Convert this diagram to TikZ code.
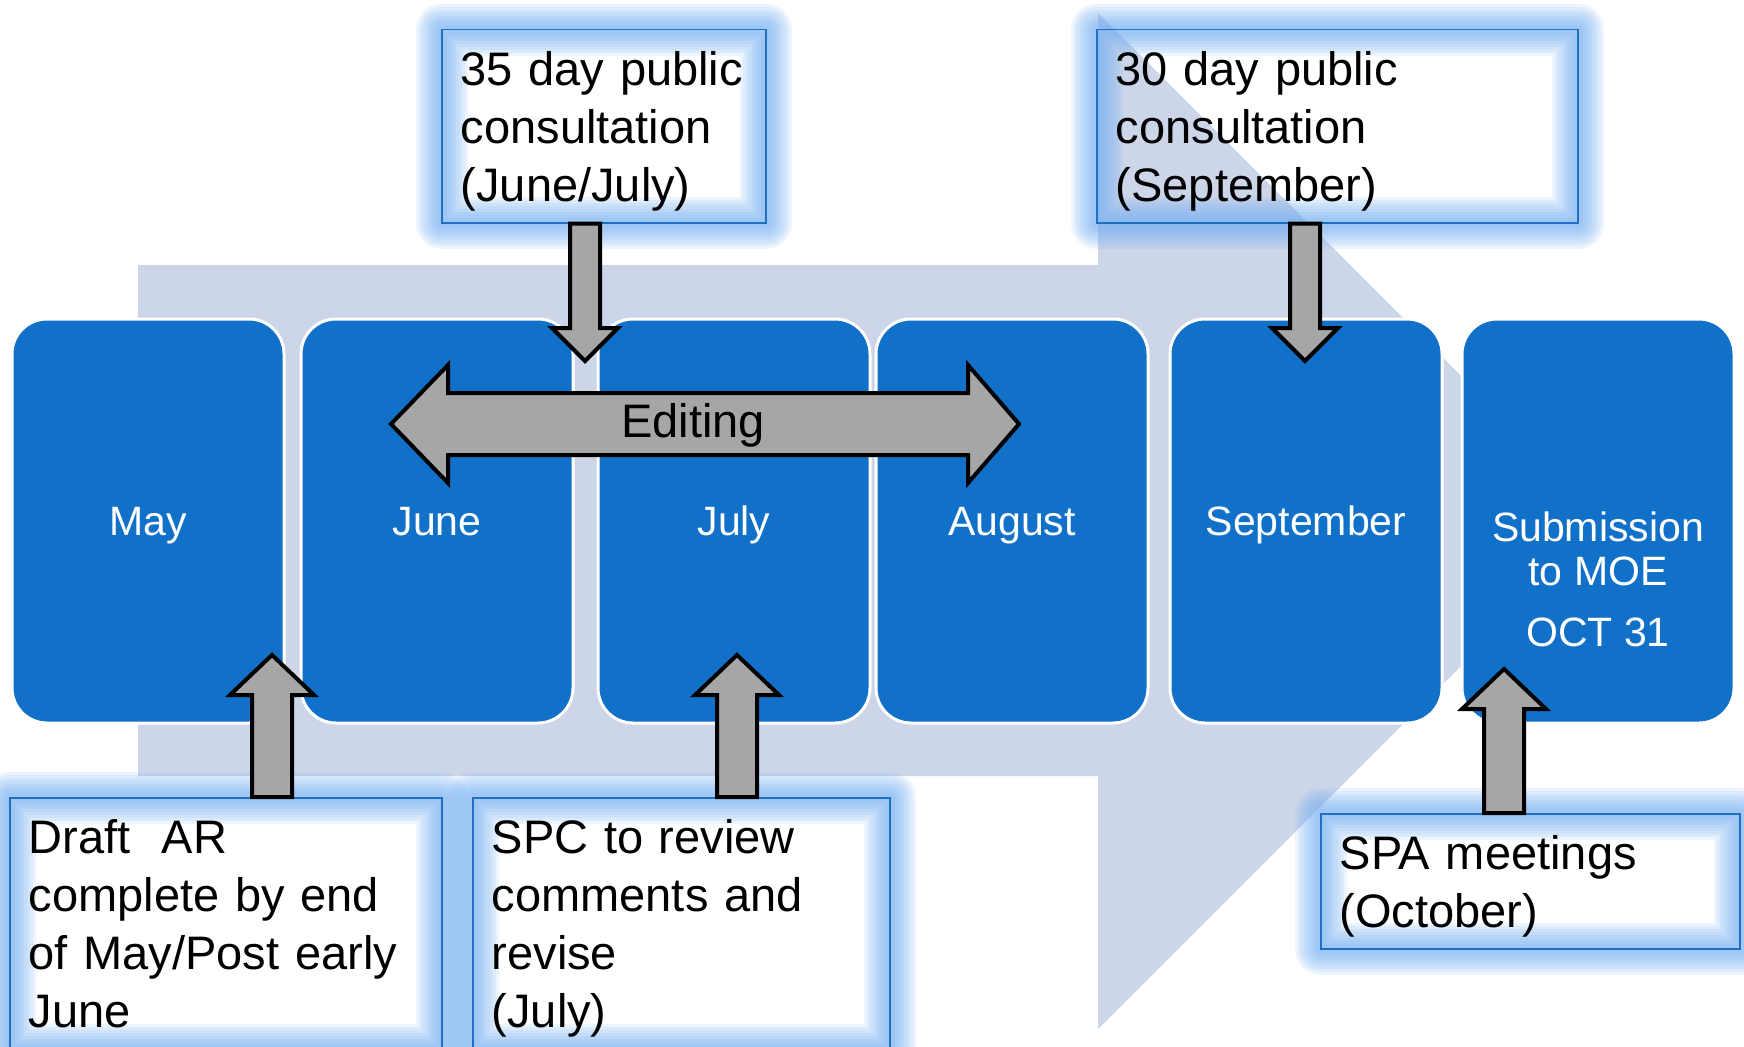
\documentclass[tikz,border=0pt]{standalone}
\usepackage{fontspec}
\setmainfont{Liberation Sans}
\usetikzlibrary{positioning, calc}

\definecolor{monthblue}{HTML}{1170C7}
\definecolor{lavender}{HTML}{CDD5E8}
\definecolor{glowblue}{HTML}{73AFF5}
\definecolor{arrowgray}{HTML}{A6A6A6}
\definecolor{boxblue}{HTML}{1F6FC5}

% vertical block arrow: from, to, half shaft, half head, head length
\newcommand{\blockarrow}[5]{%
  \draw[blockarr] let \p1=(#1), \p2=(#2), \p3=($(#2)!#5!(#1)$) in
    ({\x1-#3},\y1) -- ({\x1-#3},\y3) -- ({\x1-#4},\y3) -- (\p2) -- ({\x1+#4},\y3)
    -- ({\x1+#3},\y3) -- ({\x1+#3},\y1) -- cycle;}

\begin{document}
\begin{tikzpicture}[x=1pt, y=-1pt,
    month/.style={draw=white, line width=3pt, fill=monthblue, rounded corners=35pt,
      minimum width=272pt, minimum height=404pt, inner sep=0pt, text=white,
      text height=37pt, text depth=9pt, font=\fontsize{41}{44}\selectfont},
    halo/.style={preaction={draw=glowblue, draw opacity=.13, line width=#1, line join=round}},
    glow/.style={halo=52pt, halo=46pt, halo=40pt, halo=34pt, halo=28pt, halo=22pt,
      halo=16pt, halo=10pt},
    callout/.style 2 args={glow, draw=boxblue, line width=1.5pt, text width=#1,
      minimum height=#2, inner xsep=19pt, inner ysep=0pt, align=left,
      anchor=north west, font=\fontsize{47}{58}\selectfont},
    blockarr/.style={draw=black, line width=4pt, fill=arrowgray}]

    \useasboundingbox (0,0) rectangle (1744,1046);
    \fill[white] (0,0) rectangle (1744,1046);

    % big background arrow
    \fill[lavender] (138,265) -- (1098,265) -- (1098,13) -- (1606,521)
      -- (1098,1029) -- (1098,776) -- (138,776) -- cycle;

    % months
    \node[month] (may) at (148,521) {May};
    \node[month, right=14pt of may] (june) {June};
    \node[month, right=22pt of june] (july) {July};
    \node[month, right=3pt of july] (august) {August};
    \node[month, right=19pt of august] (sept) {September};
    \node[month, right=17pt of sept] (sub) {};
    \node[text=white, font=\fontsize{41}{44}\selectfont, align=center] (subtext)
      at ([yshift=-58pt]sub.center) {Submission\\to MOE\\[17pt]OCT 31};

    % callouts
    \node[callout={286pt}{193pt}] (c35) at (441,29) {35 day public\\consultation\\\smash{(June/July)}};
    \node[callout={443pt}{193pt}] (c30) at (1096,29) {30 day public\\consultation\\\smash{(September)}};
    \node[callout={394pt}{252pt}] (draft) at (9,797) {Draft\ \ AR\\complete by end\\of May/Post early\\June};
    \node[callout={379pt}{252pt}] (spc) at (472,797) {SPC to review\\comments and\\revise\\\smash{(July)}};
    \node[callout={381pt}{135pt}] (spa) at (1320,813) {SPA meetings\\\smash{(October)}};

    % editing arrow
    \coordinate (edL) at (391,424);
    \coordinate (edR) at (1019,424);
    \draw[blockarr] let \p1=(edL), \p2=(edR) in
      (\p1) -- ({\x1+57pt},{\y1+59pt}) -- ({\x1+57pt},{\y1+31pt}) -- ({\x2-51pt},{\y1+31pt})
      -- ({\x2-51pt},{\y1+59pt}) -- (\p2) -- ({\x2-51pt},{\y1-59pt}) -- ({\x2-51pt},{\y1-31pt})
      -- ({\x1+57pt},{\y1-31pt}) -- ({\x1+57pt},{\y1-59pt}) -- cycle;
    \node[font=\fontsize{47}{50}\selectfont, anchor=base] (edit) at (693,437) {Editing};

    % callout arrows
    \coordinate (tipA) at (272,655);
    \coordinate (tipB) at (737,655);
    \coordinate (tipC) at (1504,669);
    \coordinate (tipD) at (585,361);
    \coordinate (tipE) at (1305,361);
    \blockarrow{draft.north -| tipA}{tipA}{20pt}{42pt}{40pt}
    \blockarrow{spc.north -| tipB}{tipB}{20pt}{42pt}{40pt}
    \blockarrow{spa.north -| tipC}{tipC}{20pt}{42pt}{40pt}
    \blockarrow{c35.south -| tipD}{tipD}{15pt}{33pt}{33pt}
    \blockarrow{c30.south -| tipE}{tipE}{15pt}{33pt}{33pt}

\end{tikzpicture}
\end{document}
